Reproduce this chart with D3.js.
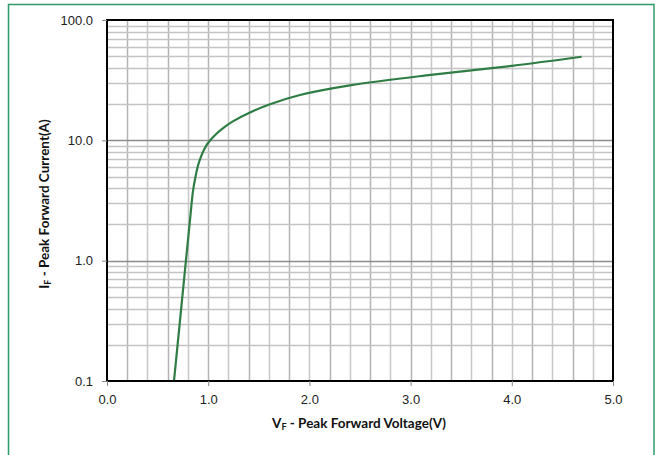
<!DOCTYPE html>
<meta charset="utf-8">
<style>
body { margin: 0; background: #fff; }
svg { display: block; font-family: Lato, "Open Sans", sans-serif; }
.tick text { font-size: 13px; fill: #222; }
.title { font-size: 13.5px; font-weight: bold; fill: #111; }
</style>
<body>
<script src="https://d3js.org/d3.v7.min.js"></script>
<script>
// forward voltage (V) vs peak forward current (A)
var voltage = [0.662, 0.72, 0.78, 0.82, 0.85, 0.875, 0.90, 0.93, 0.96, 1.00, 1.084, 1.16, 1.248, 1.413, 1.611, 1.907, 2.40, 3.20, 4.00, 4.69];
var current = [0.100, 0.31, 1.00, 2.17, 3.8, 5.0, 6.2, 7.35, 8.4, 9.55, 11.4, 12.9, 14.45, 17.05, 19.95, 23.8, 28.6, 35.0, 41.6, 49.5];
var xTicks = [0, 1, 2, 3, 4, 5];
var yTicks = [0.1, 1, 10, 100];

var W = 655, H = 455;
var margin = {top: 20, right: 42, bottom: 74, left: 107},
    width = 613 - margin.left,
    height = 381 - margin.top;

var svg = d3.select("body").append("svg")
    .attr("width", W)
    .attr("height", H);

// outer frame
svg.append("rect")
    .attr("x", 8.5).attr("y", 4.5)
    .attr("width", 645.5).attr("height", 470)
    .attr("fill", "none")
    .attr("stroke", "#2e9c6a")
    .attr("stroke-width", 1.5);

var g = svg.append("g")
    .attr("transform", "translate(" + margin.left + "," + margin.top + ")");

var x = d3.scaleLinear().domain([0, 5]).range([0, width]);
var y = d3.scaleLog().domain([0.1, 100]).range([height, 0]);

// vertical grid every 0.2 V
g.selectAll(".vgrid")
    .data(d3.range(1, 25).map(function(i) { return i * 0.2; }))
  .enter().append("line")
    .attr("x1", function(d) { return Math.round(x(d)) + 0.5; })
    .attr("x2", function(d) { return Math.round(x(d)) + 0.5; })
    .attr("y1", 0).attr("y2", height)
    .attr("stroke", function(d, i) { return i % 2 ? "#c8c8c8" : "#b4b4b4"; })
    .attr("stroke-width", 1.5);

// log minor grid
var minor = [];
[0.1, 1, 10].forEach(function(dec) {
  for (var k = 2; k <= 9; k++) minor.push(dec * k);
});
g.selectAll(".hgrid")
    .data(minor)
  .enter().append("line")
    .attr("x1", 0).attr("x2", width)
    .attr("y1", function(d) { return Math.round(y(d)) + 0.5; })
    .attr("y2", function(d) { return Math.round(y(d)) + 0.5; })
    .attr("stroke", "#c4c4c4")
    .attr("stroke-width", 1.5);

g.selectAll(".hmajor")
    .data([1, 10])
  .enter().append("line")
    .attr("x1", 0).attr("x2", width)
    .attr("y1", function(d) { return Math.round(y(d)) + 0.5; })
    .attr("y2", function(d) { return Math.round(y(d)) + 0.5; })
    .attr("stroke", "#8c8c8c")
    .attr("stroke-width", 1.5);

// curve
var line = d3.line()
    .x(function(d) { return x(d[0]); })
    .y(function(d) { return y(d[1]); })
    .curve(d3.curveCatmullRom.alpha(0.5));

g.append("path")
    .datum(voltage.map(function(v, i) { return [v, current[i]]; }))
    .attr("d", line)
    .attr("fill", "none")
    .attr("stroke", "#2f7d44")
    .attr("stroke-width", 2.2);

// plot frame
g.append("rect")
    .attr("x", 0).attr("y", 0)
    .attr("width", width).attr("height", height)
    .attr("fill", "none")
    .attr("stroke", "#000")
    .attr("stroke-width", 2);

// axes
var xAxis = g.append("g")
    .attr("transform", "translate(0," + height + ")")
    .call(d3.axisBottom(x).tickValues(xTicks).tickSize(5).tickPadding(9).tickFormat(d3.format(".1f")));
xAxis.select(".domain").remove();
xAxis.selectAll(".tick line").attr("stroke", "#888");

var yAxis = g.append("g")
    .call(d3.axisLeft(y).tickValues(yTicks).tickSize(5).tickPadding(9).tickFormat(d3.format(".1f")));
yAxis.select(".domain").remove();
yAxis.selectAll(".tick line").attr("stroke", "#888");

// axis titles (with subscript F)
var xt = svg.append("text")
    .attr("class", "title")
    .attr("x", 359).attr("y", 428)
    .attr("text-anchor", "middle");
xt.append("tspan").text("V");
xt.append("tspan").attr("font-size", "9px").attr("dy", 2).text("F");
xt.append("tspan").attr("dy", -2).text(" - Peak Forward Voltage(V)");

var yt = svg.append("text")
    .attr("class", "title")
    .attr("transform", "translate(49,204) rotate(-90)")
    .attr("text-anchor", "middle");
yt.append("tspan").text("I");
yt.append("tspan").attr("font-size", "9px").attr("dy", 2).text("F");
yt.append("tspan").attr("dy", -2).text(" - Peak Forward Current(A)");
</script>
